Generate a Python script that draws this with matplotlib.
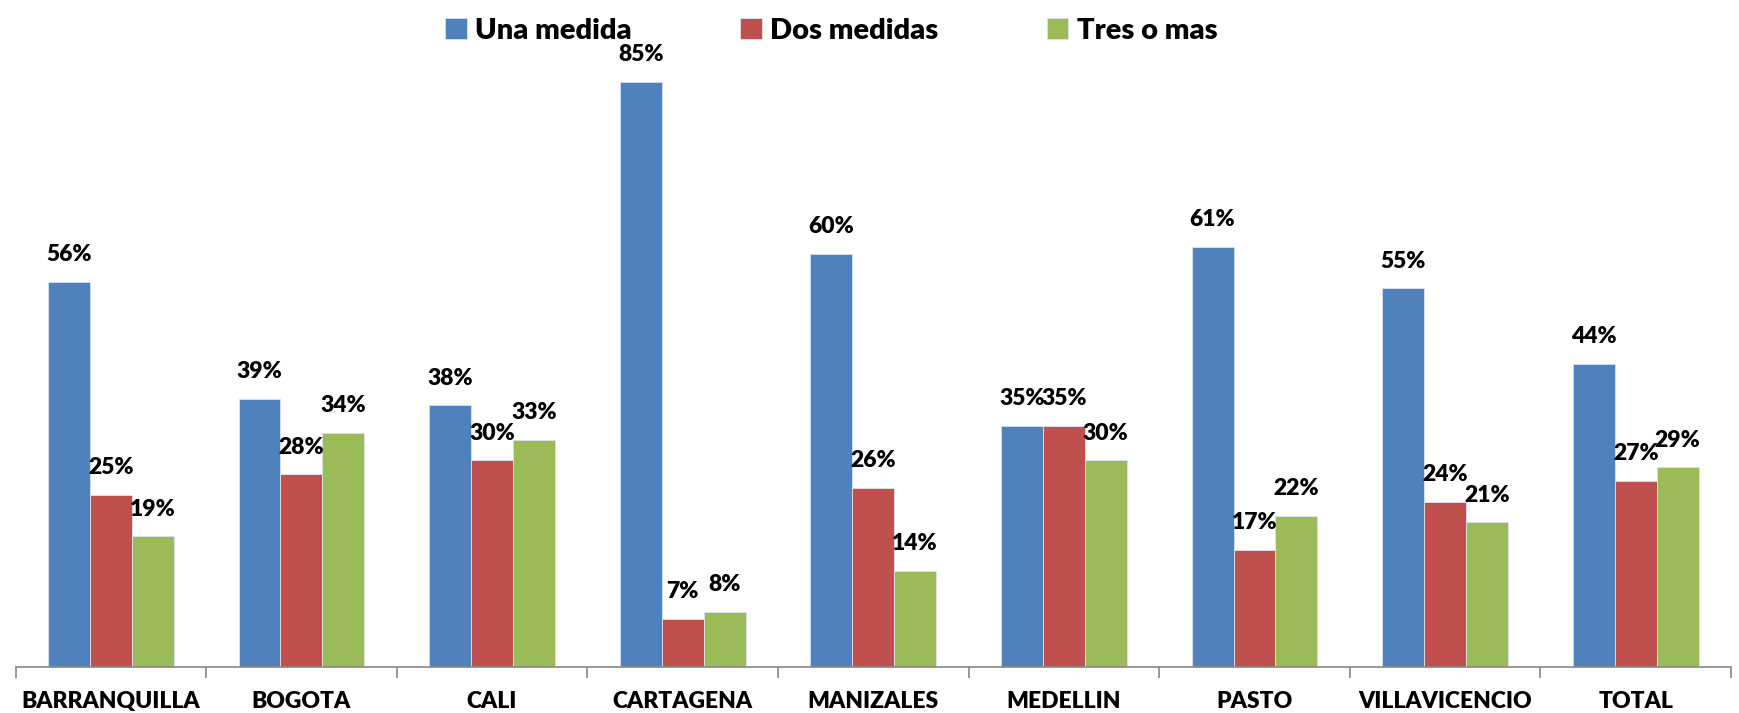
import numpy as np
import matplotlib.pyplot as plt

plt.rcParams['font.family'] = ['Lato', 'DejaVu Sans']

ciudades = ["BARRANQUILLA", "BOGOTA", "CALI", "CARTAGENA", "MANIZALES",
            "MEDELLIN", "PASTO", "VILLAVICENCIO", "TOTAL"]
una = [56, 39, 38, 85, 60, 35, 61, 55, 44]
dos = [25, 28, 30, 7, 26, 35, 17, 24, 27]
tres = [19, 34, 33, 8, 14, 30, 22, 21, 29]

series = ["Una medida", "Dos medidas", "Tres o mas"]
colores = ["#4F81BD", "#C0504D", "#9BBB59"]


def main():
    fig = plt.figure(figsize=(17.39, 7.13), dpi=100)
    ax = fig.add_axes([15.5 / 1739, 1 - 667 / 713, (1731 - 15.5) / 1739, 667 / 713])

    x = np.arange(len(ciudades))
    w = 0.22
    for i, (vals, nombre, c) in enumerate(zip([una, dos, tres], series, colores)):
        pos = x + (i - 1) * w
        bars = ax.bar(pos, vals, w, color=c, label=nombre,
                      edgecolor="#dbe3ee", linewidth=0.6)
        for b, v in zip(bars, vals):
            ax.annotate(f"{v}%", (b.get_x() + b.get_width() / 2, v),
                        xytext=(0, 12), textcoords="offset points",
                        ha="center", va="bottom", fontsize=16.5, fontweight="heavy")

    ax.set_xlim(-0.5, len(ciudades) - 0.5)
    ax.set_ylim(0, 96.9)
    ax.set_yticks([])
    for s in ["top", "right", "left"]:
        ax.spines[s].set_visible(False)
    ax.spines["bottom"].set_color("#888888")
    ax.spines["bottom"].set_linewidth(1.2)

    ax.set_xticks(np.arange(-0.5, len(ciudades), 1.0))
    ax.set_xticklabels([])
    ax.tick_params(axis="x", length=8, color="#888888", width=1.2)
    ax.set_xticks(x, minor=True)
    ax.set_xticklabels(ciudades, minor=True, fontsize=16.5, fontweight="heavy")
    ax.tick_params(axis="x", which="minor", length=0, pad=17)

    fig.legend(loc="upper center", bbox_to_anchor=(0.478, 1.012), ncol=3,
               frameon=False, prop={"size": 21, "weight": "heavy"},
               handlelength=0.75, handleheight=0.75, handletextpad=0.3,
               columnspacing=3.7)

    fig.savefig("out.png", dpi=100)


if __name__ == '__main__':
    main()
